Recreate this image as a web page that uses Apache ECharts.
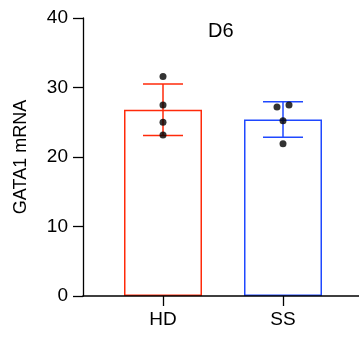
<!DOCTYPE html>
<html>
<head>
<meta charset="utf-8">
<script src="https://cdn.jsdelivr.net/npm/echarts@6/dist/echarts.min.js"></script>
<style>html,body{margin:0;padding:0;background:#fff;}#c{width:359px;height:344px;}</style>
</head>
<body>
<div id="c"></div>
<script>
var categories = ['HD', 'SS'];
var means = [26.8, 25.4];
var sds = [3.7, 2.55];
var hdPoints = [31.6, 27.5, 25.0, 23.15];
var ssPoints = [27.2, 27.5, 25.2, 21.9];
var ssOffsets = [-6, 6, 0, 0];
var colors = ['#ff2a0a', '#1f48ff'];
var yTicks = [0, 10, 20, 30, 40];
var titleText = 'D6';
var yName = 'GATA1 mRNA';

var font = 'Liberation Sans, Arial, sans-serif';
var chart = echarts.init(document.getElementById('c'), null, {renderer: 'canvas'});

var scatterData = [];
hdPoints.forEach(function (v) { scatterData.push({value: [0, v], symbolOffset: [0, 0]}); });
ssPoints.forEach(function (v, i) { scatterData.push({value: [1, v], symbolOffset: [ssOffsets[i], 0]}); });

var option = {
  animation: false,
  backgroundColor: '#fff',
  graphic: [{
    type: 'text', left: 208, top: 21, z: 10,
    style: {text: titleText, font: '20px ' + font, fill: '#000'}
  }],
  grid: [
    {left: 83, right: 0, top: 18, bottom: 48},
    {left: 103, right: 16, top: 18, bottom: 48}
  ],
  xAxis: [
    {gridIndex: 0, type: 'value', min: 0, max: 1, z: 10, axisLine: {show: true, lineStyle: {color: '#000', width: 1.6}},
     axisTick: {show: false}, axisLabel: {show: false}, splitLine: {show: false}},
    {gridIndex: 1, type: 'category', data: categories, axisLine: {show: false},
     axisTick: {show: true, alignWithLabel: true, length: 10, lineStyle: {color: '#000', width: 1.3}},
     axisLabel: {color: '#000', fontSize: 19, fontFamily: font, margin: 14}}
  ],
  yAxis: [
    {gridIndex: 0, type: 'value', min: 0, max: 40, interval: 10, z: 10,
     name: yName, nameLocation: 'middle', nameRotate: 90, nameGap: 53,
     nameTextStyle: {color: '#000', fontSize: 18, fontFamily: font},
     axisLine: {show: true, lineStyle: {color: '#000', width: 1.3}},
     axisTick: {show: true, length: 10, lineStyle: {color: '#000', width: 1.3}},
     axisLabel: {color: '#000', fontSize: 19, fontFamily: font, margin: 15},
     splitLine: {show: false}},
    {gridIndex: 1, type: 'value', min: 0, max: 40, interval: 10, show: false, splitLine: {show: false}}
  ],
  series: [
    {type: 'bar', xAxisIndex: 1, yAxisIndex: 1, barWidth: 78, z: 2,
     data: means.map(function (m, i) {
       return {value: m, itemStyle: {color: '#fff', borderColor: colors[i], borderWidth: 1.5}};
     })},
    {type: 'custom', xAxisIndex: 1, yAxisIndex: 1, z: 3,
     data: means.map(function (m, i) { return [i, m - sds[i], m + sds[i]]; }),
     renderItem: function (params, api) {
       var i = api.value(0);
       var lo = api.coord([i, api.value(1)]);
       var hi = api.coord([i, api.value(2)]);
       var hw = 20;
       var st = {stroke: colors[i], lineWidth: 1.5};
       return {type: 'group', children: [
         {type: 'line', shape: {x1: lo[0], y1: lo[1], x2: hi[0], y2: hi[1]}, style: st},
         {type: 'line', shape: {x1: lo[0] - hw, y1: lo[1], x2: lo[0] + hw, y2: lo[1]}, style: st},
         {type: 'line', shape: {x1: hi[0] - hw, y1: hi[1], x2: hi[0] + hw, y2: hi[1]}, style: st}
       ]};
     }},
    {type: 'scatter', xAxisIndex: 1, yAxisIndex: 1, z: 4, symbol: 'circle', symbolSize: 7,
     itemStyle: {color: '#000'}, data: scatterData}
  ]
};
chart.setOption(option);
</script>
</body>
</html>
